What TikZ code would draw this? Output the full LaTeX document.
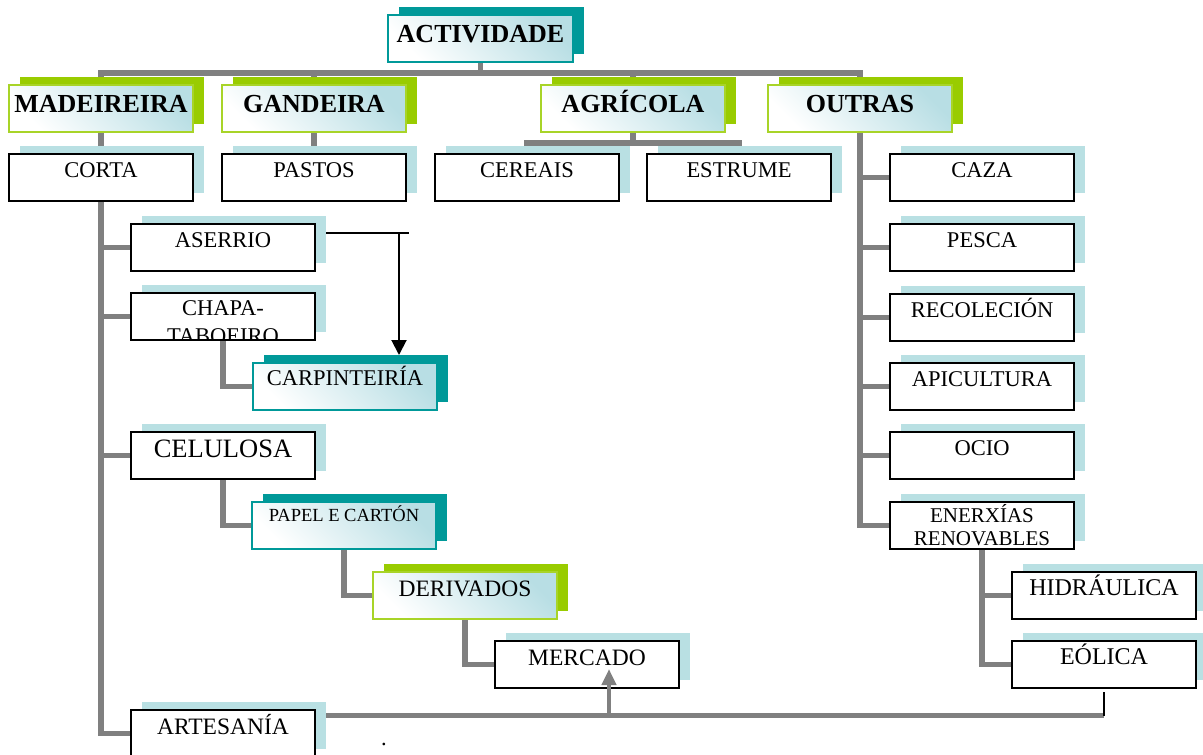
\documentclass[tikz,border=0pt]{standalone}
\usepackage{fontspec}
\setmainfont{Liberation Serif}
\usetikzlibrary{shadows,backgrounds,arrows.meta,calc}
\definecolor{lb}{RGB}{185,224,227}
\definecolor{gradc}{RGB}{184,222,228}
\definecolor{tealc}{RGB}{0,153,153}
\definecolor{greenc}{RGB}{153,204,0}
\definecolor{greenb}{RGB}{168,212,40}
\definecolor{grayc}{RGB}{128,128,128}
\tikzset{
  fs/.style={font=\fontsize{#1}{#1}\selectfont},
  box/.style={rectangle, minimum width=184pt, minimum height=47pt, inner sep=0pt, outer sep=0pt,
     text height=23pt, text depth=24pt, fs=22.5},
  plainbox/.style={box, draw=black, line width=2pt, fill=white,
     drop shadow={shadow xshift=11pt, shadow yshift=8pt, fill=lb, opacity=1}},
  gradfill/.style={top color=gradc, bottom color=white, shading angle=-45},
  greenbox/.style={box, draw=greenb, line width=2pt, gradfill,
     drop shadow={shadow xshift=11pt, shadow yshift=8pt, fill=greenc, opacity=1},
     font=\bfseries\fontsize{26}{30}\selectfont, text height=27pt, text depth=20pt},
  tealbox/.style={box, draw=tealc, line width=2pt, gradfill,
     drop shadow={shadow xshift=11pt, shadow yshift=8pt, fill=tealc, opacity=1}},
  conn/.style={draw=grayc, line width=5.5pt},
  blackline/.style={draw=black, line width=2pt},
}
\begin{document}
\begin{tikzpicture}[x=1pt,y=-1pt]
\useasboundingbox (0,0) rectangle (1203,755);
% top
\node[tealbox, font=\bfseries\fontsize{26}{30}\selectfont, text height=27pt, text depth=20pt, minimum width=185pt] (act) at (480.5,38.5) {ACTIVIDADE};
% level 1
\node[greenbox] (mad) at (101,108.5) {MADEIREIRA};
\node[greenbox] (gan) at (314,108.5) {GANDEIRA};
\node[greenbox] (agr) at (633,108.5) {AGRÍCOLA};
\node[greenbox] (out) at (860,108.5) {OUTRAS};
% level 2
\node[plainbox] (corta) at (101,177.5) {CORTA};
\node[plainbox] (pastos) at (314,177.5) {PASTOS};
\node[plainbox] (cer) at (527,177.5) {CEREAIS};
\node[plainbox] (est) at (739,177.5) {ESTRUME};
% outras column
\node[plainbox] (caza) at (982,177.5) {CAZA};
\node[plainbox] (pesca) at (982,247.5) {PESCA};
\node[plainbox] (recol) at (982,317.5) {RECOLECIÓN};
\node[plainbox] (apic) at (982,386.5) {APICULTURA};
\node[plainbox] (ocio) at (982,455.5) {OCIO};
\node[plainbox, path picture={
   \node[fs=21, anchor=base] (ener1) at ([yshift=-20pt]path picture bounding box.north) {ENERXÍAS};
   \node[fs=21, anchor=base] (ener2) at ([yshift=-43pt]path picture bounding box.north) {RENOVABLES};}] (ener) at (982,525.5) {};
\node[plainbox, fs=24] (hid) at (1104,595.5) {HIDRÁULICA};
\node[plainbox, fs=24] (eol) at (1104,664.5) {EÓLICA};
% madeireira column
\node[plainbox] (aser) at (223,247.5) {ASERRIO};
\node[plainbox, path picture={
   \node[fs=22.5, anchor=base] (chapa1) at ([yshift=-22pt]path picture bounding box.north) {CHAPA-};
   \node[fs=22.5, anchor=base] (chapa2) at ([yshift=-50pt]path picture bounding box.north) {TABOEIRO};}] (chapa) at (223,316.5) {};
\node[tealbox, text height=22pt, text depth=25pt] (carp) at (345,386.5) {CARPINTEIRÍA};
\node[plainbox, fs=26.5, text height=25pt, text depth=22pt] (cel) at (223,455.5) {CELULOSA};
\node[tealbox, fs=18.5, text height=19pt, text depth=28pt] (papel) at (344,525.5) {PAPEL E CARTÓN};
\node[greenbox, fs=23.5, text height=24pt, text depth=23pt] (der) at (465,595.5) {DERIVADOS};
\node[plainbox, fs=23.5, text height=24pt, text depth=23pt] (mer) at (587,664.5) {MERCADO};
\node[plainbox, fs=23.5, text height=24pt, text depth=23pt] (art) at (223,733.5) {ARTESANÍA};
\node[fs=22.5, anchor=base, inner sep=0pt] (dot) at (384,745) {.};
% connectors
\coordinate (bb) at ([yshift=18pt]art.east);
\coordinate (mt) at ([xshift=22pt]mer.south);
\coordinate (ar) at ([xshift=84pt,yshift=14.5pt]aser.east);
\begin{scope}[on background layer]
\draw[conn] (act.south) -- ++(0,11) coordinate (bus);
\draw[conn] (mad.north) |- (bus) -| (out.north);
\draw[conn] (gan.north) -- (gan.north |- bus);
\draw[conn] (agr.north) -- (agr.north |- bus);
\draw[conn] (mad.south) -- (corta.north);
\draw[conn] (gan.south) -- (pastos.north);
\draw[conn] (agr.south) -- ++(0,11) coordinate (abus);
\draw[conn] (cer.north) |- (abus) -| (est.north);
\draw[conn] (out.south) |- (ener.west);
\foreach \n in {caza,pesca,recol,apic,ocio} \draw[conn] (out.south) |- (\n.west);
\draw[conn] (ener.south) |- (eol.west);
\draw[conn] (ener.south) |- (hid.west);
\draw[conn] (corta.south) |- (art.west);
\foreach \n in {aser,chapa,cel} \draw[conn] (corta.south) |- (\n.west);
\draw[conn] (chapa.south) |- (carp.west);
\draw[conn] (cel.south) |- (papel.west);
\draw[conn] (papel.south) |- (der.west);
\draw[conn] (der.south) |- (mer.west);
\draw[conn] (bb) -- (bb -| eol.south);
\draw[blackline] (bb -| eol.south) -- ([yshift=-4pt]eol.south);
\draw[blackline] ([yshift=14.5pt]aser.east) -- ++(94,0);
\draw[blackline, -{Triangle[length=15pt,width=15pt]}, shorten >=8pt] (ar) -- (ar |- carp.north);
\end{scope}
\draw[grayc, line width=4.5pt, -{Triangle[length=16pt,width=14pt]}] (bb -| mt) -- ([yshift=19pt]mt);
\end{tikzpicture}
\end{document}
